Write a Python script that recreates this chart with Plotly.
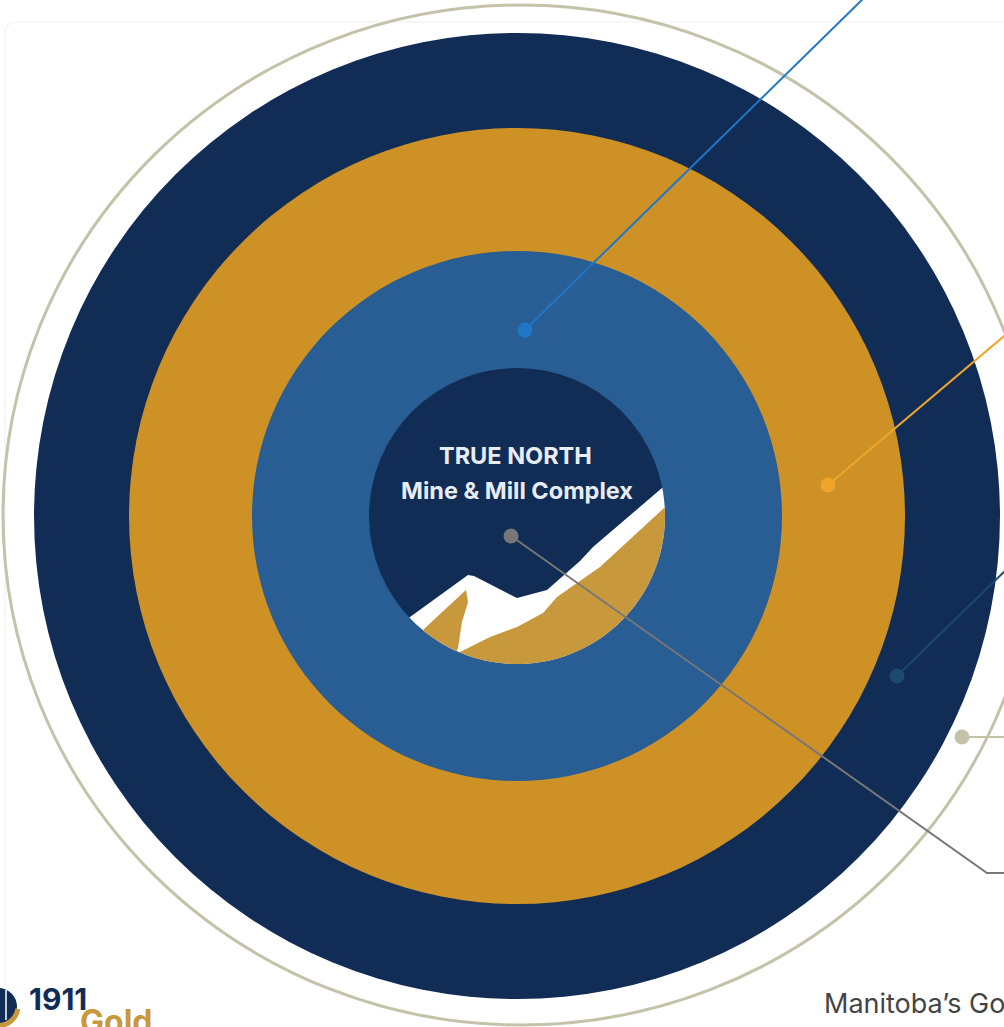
import numpy as np
import plotly.graph_objects as go

W, H = 1004, 1027
CX, CY = 517, 516

# ---- concentric rings (outer -> inner) ----
ring_names = ["Outer ring", "Gold ring", "Blue ring", "Core"]
ring_radius = [483, 388, 265, 148]
ring_colors = ["#112c55", "#cd9126", "#295e94", "#112c55"]

# outer thin guide ellipse (x0, x1, y0, y1)
guide_bounds = [3, 1039, 5, 1025]
guide_color = "#c4c2a9"

# ---- callouts: dot position and leader line path ----
callout_names = ["blue", "gold", "navy", "beige", "core"]
callout_colors = ["#1f77c8", "#efa52c", "#1c4a6e", "#c4c2a9", "#777777"]
callout_path_x = [[525, 870], [828, 1010], [897, 1010], [962, 1010], [511, 987, 1010]]
callout_path_y = [[330, -8], [485, 331], [676, 566], [737, 737], [536, 873, 873]]

# ---- mountain emblem in the core ----
snow_ridge = [(410, 617), (468, 575), (474, 576), (517, 598), (547, 590),
              (580, 561), (593, 547), (662, 488)]
gold_ridge = [(664, 508), (600, 567), (577, 583), (557, 597), (543, 613),
              (517, 627), (490, 637), (460, 652)]
gold_patch = [(458, 648), (462, 622), (468, 602), (466, 590), (425, 628)]

title_lines = ["TRUE NORTH", "Mine & Mill Complex"]
footer_text = "Manitoba’s Go"
logo_top, logo_bottom = "1911", "Gold"


def ang(p):
    return np.arctan2(p[1] - CY, p[0] - CX)


def arc(t0, t1, r, n=80):
    t = np.linspace(t0, t1, n)
    return list(zip(CX + r * np.cos(t), CY + r * np.sin(t)))


def path(points):
    s = "M " + " L ".join(f"{x:.2f},{y:.2f}" for x, y in points)
    return s + " Z"


fig = go.Figure()
shapes = []

# faint panel border
shapes.append(dict(type="path", path="M 5,1027 L 5,34 Q 5,22 17,22 L 1010,22",
                   line=dict(color="#efefef", width=1), layer="below"))

# guide ellipse
shapes.append(dict(type="circle", x0=guide_bounds[0], x1=guide_bounds[1],
                   y0=guide_bounds[2], y1=guide_bounds[3],
                   line=dict(color=guide_color, width=3), layer="below"))

for r, c in zip(ring_radius, ring_colors):
    shapes.append(dict(type="circle", x0=CX - r, x1=CX + r, y0=CY - r, y1=CY + r,
                       fillcolor=c, line=dict(width=0), layer="below"))

rc = ring_radius[-1]
snow = snow_ridge + arc(ang(snow_ridge[-1]), ang(snow_ridge[0]), rc)
g0 = ang(gold_ridge[-1])
g1 = ang(gold_ridge[0])
gold = gold_ridge + arc(g0, g1 - 2 * np.pi if g1 > g0 else g1, rc)
patch = gold_patch + arc(ang(gold_patch[-1]), ang(gold_patch[0]), rc, 20)

shapes.append(dict(type="path", path=path(snow), fillcolor="#ffffff", line=dict(width=0), layer="below"))
shapes.append(dict(type="path", path=path(gold), fillcolor="#c8983c", line=dict(width=0), layer="below"))
shapes.append(dict(type="path", path=path(patch), fillcolor="#c8983c", line=dict(width=0), layer="below"))

# logo icon (partially outside the frame)
shapes.append(dict(type="circle", x0=-20, x1=17, y0=988, y1=1025,
                   fillcolor="#112c55", line=dict(width=0), layer="above"))
shapes.append(dict(type="line", x0=6, x1=6, y0=990, y1=1020,
                   line=dict(color="#ffffff", width=1.5), layer="above"))
t = np.linspace(0.15, 1.9, 30)
outer = [(-1.5 + 22 * np.cos(a), 1006 + 22 * np.sin(a)) for a in t]
inner = [(-1.5 + 17 * np.cos(a), 1006 + 17 * np.sin(a)) for a in t[::-1]]
shapes.append(dict(type="path", path=path(outer + inner), fillcolor="#c8983c",
                   line=dict(width=0), layer="above"))

# leader lines and dots
for name, c, xs, ys in zip(callout_names, callout_colors, callout_path_x, callout_path_y):
    fig.add_trace(go.Scatter(x=xs, y=ys, mode="lines", line=dict(color=c, width=2),
                             hoverinfo="skip", showlegend=False, name=name))
    fig.add_trace(go.Scatter(x=[xs[0]], y=[ys[0]], mode="markers",
                             marker=dict(color=c, size=15, line=dict(width=0)),
                             hoverinfo="skip", showlegend=False, name=name))

annotations = [
    dict(x=515, y=455, text=f"<b>{title_lines[0]}</b>", showarrow=False,
         font=dict(family="Inter", size=23.5, color="#e8edf4"), xanchor="center", yanchor="middle"),
    dict(x=517, y=490, text=f"<b>{title_lines[1]}</b>", showarrow=False,
         font=dict(family="Inter", size=23.5, color="#e8edf4"), xanchor="center", yanchor="middle"),
    dict(x=822, y=1003, text=footer_text, showarrow=False,
         font=dict(family="Inter", size=27, color="#444444"), xanchor="left", yanchor="middle"),
    dict(x=27, y=999, text=f"<b>{logo_top}</b>", showarrow=False,
         font=dict(family="Inter", size=30, color="#112c55"), xanchor="left", yanchor="middle"),
    dict(x=78, y=1021, text=f"<b>{logo_bottom}</b>", showarrow=False,
         font=dict(family="Inter", size=32, color="#c8983c"), xanchor="left", yanchor="middle"),
]

fig.update_layout(
    width=W, height=H, margin=dict(l=0, r=0, t=0, b=0),
    paper_bgcolor="#ffffff", plot_bgcolor="#ffffff",
    xaxis=dict(range=[0, W], visible=False, fixedrange=True),
    yaxis=dict(range=[H, 0], visible=False, fixedrange=True),
    shapes=shapes, annotations=annotations, showlegend=False,
)

fig.write_html("out.html", config={"displayModeBar": False},
               post_script="document.body.style.margin='0';")
